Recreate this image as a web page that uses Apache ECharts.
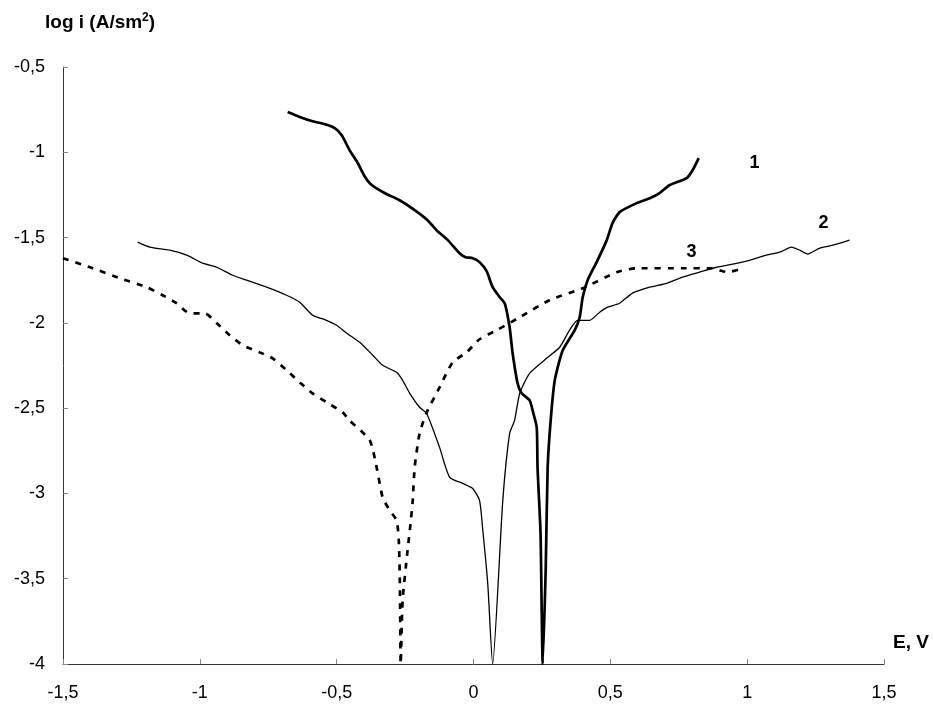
<!DOCTYPE html>
<html>
<head>
<meta charset="utf-8">
<style>
  html, body { margin: 0; padding: 0; background: #fff; }
  #chart { width: 933px; height: 707px; }
</style>
<script src="https://cdn.jsdelivr.net/npm/echarts@6/dist/echarts.min.js"></script>
</head>
<body>
<div id="chart"></div>
<script>
// Polarization curves: potential E (V) vs. log of current density
const curve1E = [-0.679, -0.635, -0.591, -0.544, -0.507, -0.482, -0.453, -0.423, -0.398, -0.372,
  -0.325, -0.270, -0.215, -0.168, -0.135, -0.094, -0.051, -0.029, -0.003, 0.022,
  0.048, 0.070, 0.096, 0.114, 0.132, 0.143, 0.161, 0.176, 0.205, 0.216,
  0.231, 0.234, 0.245, 0.253, 0.264, 0.271, 0.282, 0.297, 0.326, 0.370,
  0.388, 0.399, 0.417, 0.450, 0.487, 0.508, 0.534, 0.596, 0.644, 0.680,
  0.717, 0.779, 0.801, 0.823];
const curve1LogI = [-0.764, -0.793, -0.817, -0.835, -0.858, -0.899, -0.987, -1.063, -1.140, -1.192,
  -1.239, -1.281, -1.339, -1.398, -1.457, -1.515, -1.592, -1.615, -1.621, -1.644,
  -1.697, -1.791, -1.850, -1.885, -2.026, -2.178, -2.354, -2.413, -2.454, -2.513,
  -2.613, -2.847, -3.235, -4.0, -3.434, -2.847, -2.572, -2.337, -2.161, -2.043,
  -1.967, -1.850, -1.750, -1.644, -1.515, -1.415, -1.351, -1.298, -1.269, -1.239,
  -1.192, -1.151, -1.104, -1.034];

const curve2E = [-1.227, -1.183, -1.110, -1.048, -0.990, -0.938, -0.880, -0.829, -0.756, -0.683,
  -0.635, -0.588, -0.537, -0.500, -0.463, -0.416, -0.368, -0.332, -0.281, -0.259,
  -0.233, -0.197, -0.171, -0.124, -0.087, -0.040, -0.003, 0.022, 0.033, 0.052,
  0.070, 0.107, 0.132, 0.150, 0.169, 0.205, 0.267, 0.315, 0.351, 0.380,
  0.424, 0.461, 0.490, 0.534, 0.581, 0.644, 0.706, 0.764, 0.826, 0.888,
  0.947, 1.009, 1.071, 1.119, 1.162, 1.192, 1.221, 1.265, 1.312, 1.374];
const curve2LogI = [-1.527, -1.556, -1.574, -1.603, -1.650, -1.674, -1.721, -1.750, -1.791, -1.838,
  -1.879, -1.955, -1.985, -2.014, -2.061, -2.114, -2.190, -2.249, -2.290, -2.337,
  -2.413, -2.495, -2.531, -2.730, -2.906, -2.941, -2.971, -3.041, -3.200, -3.528,
  -4.0, -3.041, -2.648, -2.572, -2.413, -2.296, -2.208, -2.143, -2.043, -1.985,
  -1.985, -1.938, -1.908, -1.885, -1.826, -1.791, -1.768, -1.732, -1.703, -1.674,
  -1.656, -1.633, -1.603, -1.586, -1.556, -1.574, -1.597, -1.562, -1.545, -1.515];

const curve3E = [-1.500, -1.391, -1.293, -1.194, -1.136, -1.085, -1.037, -0.982, -0.938, -0.891,
  -0.843, -0.781, -0.734, -0.683, -0.635, -0.588, -0.537, -0.478, -0.453, -0.379,
  -0.354, -0.332, -0.306, -0.281, -0.273, -0.269, -0.266, -0.259, -0.241, -0.230,
  -0.222, -0.215, -0.197, -0.171, -0.124, -0.076, -0.025, 0.022, 0.085, 0.169,
  0.278, 0.399, 0.523, 0.596, 0.764, 0.874, 0.900, 0.929, 0.983];
const curve3LogI = [-1.621, -1.680, -1.738, -1.791, -1.838, -1.885, -1.944, -1.944, -2.002, -2.073,
  -2.131, -2.173, -2.208, -2.278, -2.349, -2.413, -2.466, -2.525, -2.572, -2.689,
  -2.847, -3.023, -3.100, -3.158, -3.276, -3.528, -4.0, -3.628, -3.335, -3.176,
  -3.041, -2.847, -2.648, -2.525, -2.378, -2.231, -2.173, -2.096, -2.043, -1.967,
  -1.867, -1.797, -1.703, -1.680, -1.680, -1.680, -1.692, -1.703, -1.680];

// Curve number tags: text and where they sit (E, log i)
const curveTags = ['1', '2', '3'];
const tagE = [1.027, 1.279, 0.797];
const tagLogI = [-1.063, -1.415, -1.586];

const FONT = '"Liberation Sans", Arial, sans-serif';

function pairs(xs, ys) {
  return xs.map((x, i) => [x, ys[i]]);
}
function commaFmt(v) {
  return String(Math.round(v * 10) / 10).replace('.', ',');
}
function tag(i) {
  return {
    markPoint: {
      symbol: 'rect',
      symbolSize: 1,
      itemStyle: { color: 'rgba(0,0,0,0)' },
      label: {
        show: true, position: 'inside', formatter: curveTags[i],
        color: '#000', fontFamily: FONT, fontWeight: 'bold', fontSize: 18
      },
      data: [{ coord: [tagE[i], tagLogI[i]] }]
    }
  };
}

const chart = echarts.init(document.getElementById('chart'), null, { renderer: 'canvas' });

const axisCommon = {
  type: 'value',
  splitLine: { show: false },
  axisLine: { show: true, onZero: false, lineStyle: { color: '#333', width: 1 } },
  axisTick: { show: true, inside: true, length: 5, lineStyle: { color: '#888', width: 1 } },
  axisLabel: { color: '#000', fontFamily: FONT, fontSize: 18, formatter: commaFmt }
};

const lineCommon = { type: 'line', showSymbol: false, symbol: 'none', smooth: 0.2, clip: true };

chart.setOption({
  animation: false,
  backgroundColor: '#fff',
  grid: { left: 63, right: 49, top: 67, bottom: 43, containLabel: false },
  xAxis: Object.assign({}, axisCommon, {
    min: -1.5, max: 1.5, interval: 0.5,
    axisLabel: Object.assign({}, axisCommon.axisLabel, { margin: 20 })
  }),
  yAxis: Object.assign({}, axisCommon, {
    min: -4, max: -0.5, interval: 0.5,
    axisLabel: Object.assign({}, axisCommon.axisLabel, { margin: 18, padding: [3, 0, 0, 0] })
  }),
  graphic: [
    {
      type: 'text', left: 45, top: 12,
      style: {
        text: '{a|log i (A/sm}{s|2}{a|)}',
        rich: {
          a: { fontFamily: FONT, fontWeight: 'bold', fontSize: 19, fill: '#000' },
          s: { fontFamily: FONT, fontWeight: 'bold', fontSize: 12, fill: '#000', verticalAlign: 'top', padding: [0, 0, 9, 0] }
        }
      }
    },
    {
      type: 'text', left: 893, top: 633,
      style: { text: 'E, V', fontFamily: FONT, fontWeight: 'bold', fontSize: 19, fill: '#000' }
    }
  ],
  series: [
    Object.assign({}, lineCommon, {
      name: '1', data: pairs(curve1E, curve1LogI),
      lineStyle: { color: '#000', width: 2.7 }
    }, tag(0)),
    Object.assign({}, lineCommon, {
      name: '2', data: pairs(curve2E, curve2LogI),
      lineStyle: { color: '#000', width: 1.3 }
    }, tag(1)),
    Object.assign({}, lineCommon, {
      name: '3', data: pairs(curve3E, curve3LogI),
      lineStyle: { color: '#000', width: 2.7, type: [6, 7] }
    }, tag(2))
  ]
});
</script>
</body>
</html>
